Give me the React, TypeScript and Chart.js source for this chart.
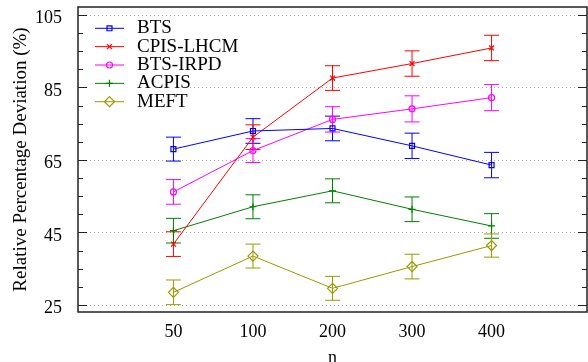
import React, { useEffect, useRef } from 'react';
import { Chart, registerables } from 'chart.js';
import { drawPoint } from 'chart.js/helpers';

Chart.register(...registerables);

const nLabels = ['50', '100', '200', '300', '400'];
const seriesNames = ['BTS', 'CPIS-LHCM', 'BTS-IRPD', 'ACPIS', 'MEFT'];

const btsValues = [68.0, 73.0, 73.7, 68.9, 63.6];
const btsErrors = [3.3, 3.4, 3.4, 3.5, 3.5];
const cpisValues = [41.8, 71.3, 87.6, 91.6, 95.9];
const cpisErrors = [3.4, 3.4, 3.4, 3.5, 3.5];
const irpdValues = [56.2, 67.6, 76.2, 79.1, 82.2];
const irpdErrors = [3.4, 3.3, 3.5, 3.6, 3.6];
const acpisValues = [45.5, 52.1, 56.5, 51.4, 46.8];
const acpisErrors = [3.4, 3.3, 3.3, 3.4, 3.4];
const meftValues = [28.5, 38.5, 29.6, 35.6, 41.4];
const meftErrors = [3.4, 3.3, 3.3, 3.4, 3.2];

const yTickValues = [25, 45, 65, 85, 105];
const yMinorStep = 5;

const seriesValues = [btsValues, cpisValues, irpdValues, acpisValues, meftValues];
const seriesErrors = [btsErrors, cpisErrors, irpdErrors, acpisErrors, meftErrors];
const seriesColors = ['#0000ff', '#ff0000', '#ff00ff', '#008000', '#999900'];
const seriesStyles = ['rect', 'crossRot', 'circle', 'cross', 'rectRot'];
const seriesRadii = [3.5, 3.5, 3, 3.5, 5];

const FAMILY = '"Liberation Serif", "Times New Roman", serif';

const decor = {
  id: 'decor',
  beforeDatasetsDraw(chart: any) {
    const { ctx, chartArea: a, scales } = chart;
    const x = scales.x;
    const y = scales.y;
    ctx.save();
    ctx.strokeStyle = '#a8a8a8';
    ctx.lineWidth = 1;
    ctx.setLineDash([1, 3]);
    yTickValues.forEach((v) => {
      const py = Math.round(y.getPixelForValue(v)) + 0.5;
      ctx.beginPath();
      ctx.moveTo(a.left, py);
      ctx.lineTo(a.right, py);
      ctx.stroke();
    });
    ctx.setLineDash([]);
    chart.data.datasets.forEach((ds: any) => {
      ctx.strokeStyle = ds.borderColor;
      ctx.lineWidth = 1;
      ds.data.forEach((p: any, i: number) => {
        const e = ds.errors[i];
        const px = x.getPixelForValue(p.x);
        const top = y.getPixelForValue(p.y + e);
        const bot = y.getPixelForValue(p.y - e);
        ctx.beginPath();
        ctx.moveTo(px, top);
        ctx.lineTo(px, bot);
        ctx.moveTo(px - 7.5, top);
        ctx.lineTo(px + 7.5, top);
        ctx.moveTo(px - 7.5, bot);
        ctx.lineTo(px + 7.5, bot);
        ctx.stroke();
      });
    });
    ctx.restore();
  },
  afterDatasetsDraw(chart: any) {
    const { ctx, chartArea: a, scales } = chart;
    const y = scales.y;
    ctx.save();
    // legend
    ctx.fillStyle = '#ffffff';
    ctx.fillRect(a.left + 1, 18, 111, 93);
    chart.data.datasets.forEach((ds: any, i: number) => {
      const ry = 28.3 + i * 18.35;
      ctx.strokeStyle = ds.borderColor;
      ctx.lineWidth = 1;
      ctx.beginPath();
      ctx.moveTo(95, ry);
      ctx.lineTo(124, ry);
      ctx.stroke();
      ctx.fillStyle = 'rgba(0,0,0,0)';
      ctx.lineWidth = 1.2;
      drawPoint(ctx, { pointStyle: ds.pointStyle, radius: ds.pointRadius, rotation: 0, borderWidth: 1.2 } as any, 109.5, ry);
      ctx.fillStyle = '#000';
      ctx.font = `19px ${FAMILY}`;
      ctx.textAlign = 'left';
      ctx.textBaseline = 'middle';
      ctx.fillText(ds.label, 137, ry);
    });
    // frame
    ctx.strokeStyle = '#222';
    ctx.lineWidth = 1.5;
    ctx.strokeRect(a.left, a.top, a.right - a.left, a.bottom - a.top);
    // inward ticks
    ctx.lineWidth = 1.2;
    for (let v = yTickValues[0]; v <= yTickValues[yTickValues.length - 1]; v += yMinorStep) {
      const major = yTickValues.includes(v);
      const len = major ? 9 : 5;
      const py = Math.round(y.getPixelForValue(v)) + 0.5;
      ctx.beginPath();
      ctx.moveTo(a.left, py);
      ctx.lineTo(a.left + len, py);
      ctx.moveTo(a.right, py);
      ctx.lineTo(a.right - len, py);
      ctx.stroke();
    }
    ctx.restore();
  },
};

export default function App() {
  const canvasRef = useRef<HTMLCanvasElement | null>(null);

  useEffect(() => {
    const canvas = canvasRef.current;
    if (!canvas) return;
    const datasets = seriesNames.map((name, si) => ({
      label: name,
      data: nLabels.map((_, i) => ({ x: i, y: seriesValues[si][i] })),
      errors: seriesErrors[si],
      borderColor: seriesColors[si],
      backgroundColor: 'rgba(0,0,0,0)',
      pointBackgroundColor: 'rgba(0,0,0,0)',
      pointBorderColor: seriesColors[si],
      pointStyle: seriesStyles[si],
      pointRadius: seriesRadii[si],
      pointBorderWidth: 1.2,
      borderWidth: 1,
      tension: 0,
      fill: false,
    }));
    const chart = new Chart(canvas, {
      type: 'line',
      data: { datasets } as any,
      options: {
        animation: false,
        responsive: false,
        maintainAspectRatio: false,
        layout: { padding: { top: 7, right: 1, left: 0, bottom: 0 }, autoPadding: false } as any,
        plugins: {
          legend: { display: false },
          tooltip: { enabled: false },
        },
        scales: {
          x: {
            type: 'linear',
            min: -1.2,
            max: 5.2,
            grid: { display: false, drawTicks: false, tickLength: 0 },
            border: { display: false },
            afterBuildTicks: (s: any) => {
              s.ticks = nLabels.map((_, i) => ({ value: i }));
            },
            ticks: {
              callback: (v: any) => nLabels[v] ?? '',
              padding: 9,
              font: { family: FAMILY, size: 18 },
              color: '#000',
              maxRotation: 0,
              autoSkip: false,
            },
            title: {
              display: true,
              text: 'n',
              font: { family: FAMILY, size: 18, lineHeight: 0.45 },
              color: '#000',
              padding: 0,
            },
            afterFit: (s: any) => {
              s.height = 50;
              s.paddingLeft = 0;
              s.paddingRight = 0;
            },
          },
          y: {
            type: 'linear',
            min: 23.07,
            max: 107.2,
            grid: { display: false, drawTicks: false, tickLength: 0 },
            border: { display: false },
            afterBuildTicks: (s: any) => {
              s.ticks = yTickValues.map((v) => ({ value: v }));
            },
            ticks: {
              padding: 16,
              labelOffset: 3.5,
              font: { family: FAMILY, size: 18 },
              color: '#000',
            },
            title: {
              display: true,
              text: 'Relative Percentage Deviation (%)',
              font: { family: FAMILY, size: 19 },
              color: '#000',
              padding: { top: 10, bottom: 0 },
            },
            afterFit: (s: any) => {
              s.width = 78;
              s.paddingTop = 0;
              s.paddingBottom = 0;
            },
          },
        },
      } as any,
      plugins: [decor],
    });
    return () => chart.destroy();
  }, []);

  return (
    <div style={{ position: 'absolute', left: 0, top: 0, width: 588, height: 362, background: '#fff' }}>
      <canvas ref={canvasRef} width={588} height={362} style={{ display: 'block' }} />
    </div>
  );
}
